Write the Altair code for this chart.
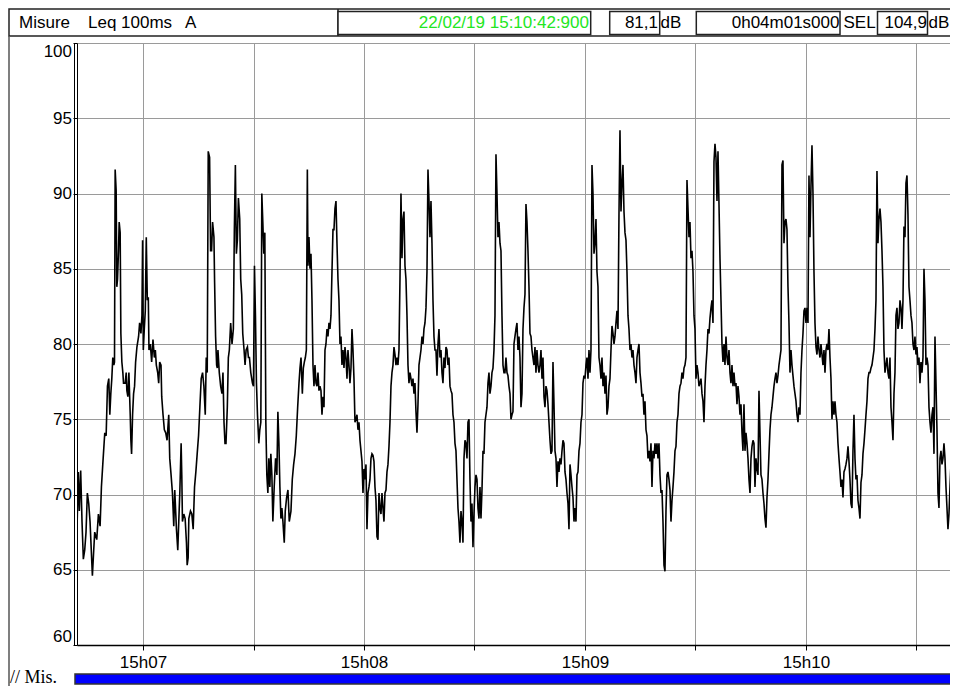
import altair as alt
import pandas as pd

# ---------------- data (time in seconds since 15:00:00, Leq in dB(A)) ----------------
# first part of the trace, read point by point
seg1_sec = [
    402.10, 402.44, 402.71, 403.08, 403.44, 403.80, 404.17, 404.53, 404.89, 405.26,
    405.62, 406.26, 406.62, 406.89, 407.44, 407.89, 408.35, 408.71, 409.08, 409.62,
    409.99, 410.35, 410.71, 410.99, 411.26, 411.53, 411.80, 412.08, 412.26, 412.44,
    412.71, 412.89, 413.08, 413.35, 413.53, 413.80, 413.99, 414.26, 414.53, 414.71,
    415.17, 415.44, 415.62, 415.89, 416.17, 416.53, 416.71, 416.90, 417.17, 417.44,
    417.71, 417.99, 418.35, 418.80, 419.08, 419.44, 419.71, 419.89, 420.08, 420.35,
    420.62, 420.89, 421.17, 421.44, 421.62, 421.99, 422.35, 422.71, 423.08, 423.35,
    423.62, 423.99, 424.26, 424.53, 424.89, 425.08, 425.44, 425.80, 426.17, 426.53,
    426.99, 427.26, 427.62, 427.99, 428.35, 428.62, 429.08, 429.44, 429.71, 429.99,
    430.35, 430.53, 430.71, 431.08, 431.44, 431.80, 431.99, 432.26, 432.44, 432.89,
    433.26, 433.62, 433.99, 434.35, 434.71, 435.08, 435.44, 435.80, 436.17, 436.53,
    436.90, 437.17, 437.44, 437.71, 438.08, 438.35, 438.62, 438.89, 439.26, 439.44,
    439.71, 439.99, 440.17, 440.35, 440.71, 441.08, 441.44, 441.71, 441.99, 442.26,
    442.53, 442.89, 443.17, 443.44, 443.80, 444.17, 444.53, 444.80, 445.08, 445.35,
    445.62, 445.90, 446.26, 446.53, 446.80, 447.08, 447.44, 447.71, 447.99, 448.35,
    448.62, 448.90, 449.26, 449.71, 449.99, 450.26, 450.53, 450.80, 451.08, 451.44,
    451.71, 451.99, 452.26, 452.53, 452.80, 453.08, 453.35, 453.62, 453.90, 454.17,
    454.44, 454.71, 454.99, 455.26, 455.62, 455.99, 456.35, 456.62, 456.90, 457.17,
    457.44, 457.71, 457.99, 458.35, 458.62, 458.99, 459.35, 459.71, 460.17, 460.53,
    460.90, 461.26, 461.62, 461.99, 462.35, 462.62, 462.90, 463.26, 463.53, 463.80,
    464.08, 464.35, 464.62,
]
seg1_db = [
    67.9, 71.5, 68.9, 71.6, 68.2, 65.7, 66.3, 67.5, 70.1, 69.4,
    68.2, 64.6, 66.3, 67.5, 67.0, 68.7, 67.9, 70.5, 72.0, 74.1,
    73.9, 77.2, 77.7, 75.3, 76.7, 77.7, 79.1, 78.6, 78.8, 91.6,
    90.2, 83.8, 84.3, 86.2, 88.1, 87.4, 80.7, 78.8, 78.1, 77.4,
    77.4, 78.1, 76.9, 76.5, 78.1, 75.3, 73.6, 72.7, 75.3, 76.7,
    77.2, 78.8, 79.8, 80.5, 81.4, 80.7, 81.9, 86.9, 79.6, 81.0,
    82.2, 87.1, 82.9, 83.1, 79.6, 80.0, 78.8, 80.3, 79.1, 79.6,
    78.6, 78.1, 77.4, 78.8, 78.6, 76.5, 75.3, 74.3, 74.1, 73.6,
    75.3, 72.4, 71.3, 70.1, 67.9, 70.3, 67.7, 66.3, 68.2, 70.1,
    73.4, 71.3, 68.2, 68.7, 68.4, 66.8, 65.3, 65.8, 68.4, 68.9,
    68.7, 67.7, 70.5, 71.5, 72.7, 73.9, 75.8, 77.7, 78.1, 77.2,
    75.3, 79.1, 78.1, 92.8, 92.4, 86.2, 86.2, 88.1, 87.1, 84.1,
    80.5, 78.6, 78.4, 79.6, 78.1, 77.2, 76.7, 78.1, 74.8, 73.4,
    73.4, 75.8, 79.1, 79.6, 81.4, 80.0, 81.0, 87.6, 91.9, 86.0,
    86.9, 89.7, 88.3, 84.3, 83.3, 80.7, 79.6, 78.6, 79.6, 79.8,
    79.1, 79.1, 78.1, 77.4, 77.2, 85.2, 81.9, 77.4, 75.3, 73.4,
    74.3, 74.8, 90.0, 88.1, 86.0, 87.4, 74.8, 71.3, 70.1, 72.4,
    70.5, 72.7, 71.3, 68.2, 70.5, 72.4, 71.3, 75.5, 73.4, 70.5,
    68.4, 69.1, 68.2, 66.8, 68.9, 69.8, 70.3, 68.2, 68.9, 71.0,
    72.0, 72.7, 73.9, 75.8, 77.4, 78.4, 79.1, 76.7, 78.4, 78.8,
    79.1, 79.6, 91.6,
]

# remaining parts: samples read at a regular spacing (start second, spacing in seconds)
sample_step = 0.2715
seg2_start = 464.79
seg2_db = [
    85.2, 87.1, 85.0, 86.0, 82.9, 78.6, 77.2, 78.6, 77.4, 77.2,
    78.1, 76.9, 77.2, 76.9, 75.3, 76.5, 75.8, 79.6, 80.0, 81.0,
    80.5, 81.4, 81.0, 81.9, 84.8, 87.6, 87.6, 89.0, 89.5, 86.7,
    84.3, 82.9, 80.0, 80.5, 78.6, 79.6, 78.4, 79.8, 79.1, 77.7,
    79.6, 78.6, 77.4, 78.4, 81.0, 79.6, 77.7, 74.8, 75.0, 75.3,
    74.3, 74.8, 73.6, 72.9, 72.2, 70.1, 71.7, 71.0, 72.0, 67.7,
    70.1, 70.5, 71.0, 72.4, 72.7, 72.6, 72.2, 70.5, 69.6, 67.2,
    67.0, 70.1, 69.1, 68.7, 70.1, 69.1, 68.2, 70.1, 70.3, 71.5,
    72.0, 73.2, 74.8, 77.2, 78.1, 78.6, 79.8, 79.3, 78.6, 79.1,
    78.6, 79.6, 84.3, 90.0, 85.7, 88.3, 88.8, 85.2, 84.3, 81.9,
    78.6, 77.4, 78.1, 77.7, 77.2, 77.7, 76.7, 77.4, 75.5, 74.1,
    76.0, 78.6, 79.1, 79.6, 80.5, 80.0, 81.0, 81.4, 82.4, 84.8,
    91.6, 89.5, 87.1, 89.5, 86.7, 82.9, 80.5, 79.6, 79.6, 77.9,
    80.0, 81.0, 79.1, 79.6, 78.1, 77.4, 79.1, 78.4, 79.8, 79.6,
    78.6, 79.1, 77.2, 76.9, 76.7, 75.3, 74.8, 73.4, 72.9, 71.0,
    69.1, 68.2, 66.8, 68.9, 68.2, 66.8, 72.4, 73.6, 73.4, 72.4,
    74.8, 75.0, 71.0, 68.2, 69.4, 66.5, 68.7, 70.5, 71.3, 71.0,
    69.1, 68.4, 70.5, 68.4, 70.3, 72.9, 72.7, 74.8, 75.3, 75.8,
    77.4, 78.1, 76.7, 77.2, 78.1, 78.4, 79.6, 81.9, 92.6, 90.0,
    87.1, 88.1, 86.7, 86.2, 81.9, 78.6, 78.1, 78.1, 79.1, 78.1,
    77.9, 77.2, 76.7, 75.0, 75.3, 75.5, 80.0, 80.5, 81.0, 81.4,
    79.6, 80.5, 79.1, 75.8, 76.7, 81.0, 82.4, 83.3, 89.3, 88.1,
    86.2, 83.8, 80.7, 80.5, 79.6, 79.1, 78.6, 79.8, 78.1, 79.6,
    78.6, 78.1,
]
seg3_start = 527.78
seg3_db = [
    78.6, 79.6, 77.7, 79.1, 76.5, 75.8, 77.2, 76.9, 76.0, 74.8,
    73.6, 72.7, 72.9, 78.8, 76.0, 72.9, 72.4, 70.5, 72.2, 71.5,
    72.4, 72.0, 72.9, 73.6, 73.4, 71.5, 71.0, 70.1, 69.4, 67.7,
    72.0, 71.3, 70.5, 69.8, 68.2, 69.1, 68.2, 71.3, 71.5, 72.9,
    73.4, 74.8, 75.3, 77.4, 77.9, 77.7, 78.6, 79.1, 77.7, 79.6,
    78.1, 79.6, 91.9, 90.0, 86.0, 86.7, 88.3, 84.8, 83.8, 79.1,
    78.6, 77.7, 79.1, 77.2, 78.1, 76.7, 77.9, 75.3, 75.8, 77.2,
    77.7, 79.6, 81.2, 80.7, 80.0, 80.5, 81.4, 82.2, 81.0, 88.6,
    94.2, 88.8, 90.7, 91.9, 88.8, 87.4, 86.9, 84.8, 81.9, 81.0,
    79.6, 80.0, 79.1, 79.6, 78.6, 78.1, 77.4, 79.1, 79.6, 80.0,
    78.1, 77.4, 76.5, 76.7, 75.3, 76.2, 74.3, 73.9, 72.4, 72.9,
    72.2, 73.4, 70.5, 72.9, 72.4, 73.4, 72.7, 73.4, 72.4, 73.4,
    71.3, 70.1, 70.3, 68.2, 65.3, 64.9, 68.9, 71.3, 71.5, 71.0,
    70.3, 68.2, 69.6, 70.5, 71.5, 72.9, 73.2, 74.8, 75.3, 76.7,
    77.2, 77.4, 78.1, 77.7, 78.4, 78.6, 79.1, 90.9, 89.0, 87.1,
    88.1, 85.7, 86.2, 84.8, 81.9, 81.0, 77.7, 78.6, 78.1, 77.2,
    77.4, 77.7, 76.7, 76.2, 74.8, 77.2, 78.6, 79.6, 81.0, 80.7,
    81.7, 82.4, 82.9, 81.4, 92.1, 93.3, 92.4, 89.5, 92.8, 89.3,
    85.7, 82.9, 80.0, 78.8, 80.0, 78.6, 80.5, 79.1, 78.6, 79.6,
    78.1, 77.4, 78.6, 77.2, 78.1, 77.2, 77.4, 76.0, 77.2, 76.5,
    75.3, 76.0, 74.1, 72.9, 76.0, 72.9, 74.1, 73.4, 72.4, 71.0,
    70.1, 72.4, 73.2, 73.6, 73.4, 70.5, 72.4, 71.7, 71.3, 76.9,
]
seg4_start = 587.78
seg4_db = [
    71.3, 71.0, 70.1, 69.4, 68.4, 67.8, 69.8, 71.0, 72.7, 74.3,
    75.3, 75.8, 76.5, 77.2, 77.7, 78.1, 77.4, 77.9, 78.6, 79.1,
    79.6, 91.9, 92.2, 86.7, 88.1, 88.3, 87.6, 83.8, 81.4, 78.1,
    79.6, 78.6, 77.9, 77.2, 76.7, 76.2, 75.3, 74.8, 75.8, 75.3,
    78.1, 79.6, 80.7, 82.2, 82.4, 81.4, 82.4, 81.4, 91.2, 87.1,
    90.5, 93.2, 90.0, 84.8, 81.4, 79.8, 79.3, 80.5, 79.6, 79.1,
    80.0, 79.3, 78.6, 79.6, 78.1, 79.6, 80.0, 79.6, 81.0, 79.1,
    77.7, 75.0, 76.2, 75.3, 76.2, 75.3, 74.8, 73.4, 72.4, 71.5,
    70.5, 71.0, 69.8, 71.5, 71.7, 72.0, 72.4, 73.2, 72.2, 71.0,
    69.4, 69.1, 72.9, 75.3, 72.4, 71.0, 71.3, 69.6, 69.1, 68.4,
    70.8, 71.3, 72.7, 73.4, 74.3, 75.3, 76.2, 77.7, 78.1, 78.1,
    78.4, 78.6, 79.1, 79.6, 81.0, 82.9, 91.5, 86.7, 88.3, 89.0,
    88.1, 86.2, 83.8, 79.6, 78.1, 78.6, 79.1, 78.1, 77.7, 79.1,
    75.8, 74.8, 73.6, 76.7, 78.1, 81.9, 82.4, 81.0, 81.4, 82.9,
    82.4, 81.0, 82.9, 87.8, 87.1, 90.7, 91.2, 88.6, 83.8, 82.9,
    81.9, 81.4, 80.0, 79.6, 80.5, 79.3, 79.8, 78.6, 79.1, 77.4,
    78.8, 78.1, 79.1, 85.0, 82.9, 78.6, 79.1, 78.6, 75.8, 74.8,
    74.1, 75.3, 75.8, 72.7, 80.5, 77.4, 74.3, 70.1, 69.1, 72.4,
    72.9, 72.0, 72.4, 73.4, 72.4, 70.5, 69.1, 67.7, 68.7, 70.5,
    72.0, 73.4, 73.2, 72.0, 71.5, 70.1, 69.1, 68.9,
]

# axes
x_domain = [402.08, 639.10]          # visible window, seconds since 15:00:00
x_tick_sec = [420, 450, 480, 510, 540, 570, 600, 630]
x_tick_text = ["15h07", "", "15h08", "", "15h09", "", "15h10", ""]
y_ticks = [60, 65, 70, 75, 80, 85, 90, 95, 100]

# header / footer texts
hdr_mode = ["Misure", "Leq 100ms", "A"]
hdr_time = "22/02/19 15:10:42:900"
hdr_level = "81,1"
hdr_duration = "0h04m01s000"
hdr_sel = "104,9"
unit = "dB"
footer_text = "// Mis."

# ---------------- build table ----------------
times, vals = list(seg1_sec), list(seg1_db)
for start, arr in [(seg2_start, seg2_db), (seg3_start, seg3_db), (seg4_start, seg4_db)]:
    times += [round(start + i * sample_step, 3) for i in range(len(arr))]
    vals += arr
df = pd.DataFrame({"t": times, "db": vals})

label_expr = "''"
for v, s in reversed(list(zip(x_tick_sec, x_tick_text))):
    label_expr = f"datum.value == {v} ? '{s}' : ({label_expr})"

W, H = 873, 602
SANS = "Liberation Sans"
SERIF = "Liberation Serif"
dummy = pd.DataFrame({"k": [0]})


def rect(x1, x2, y1, y2, fill="white", stroke="#222222", sw=1.5):
    return alt.Chart(dummy).mark_rect(fill=fill, stroke=stroke, strokeWidth=sw, clip=False).encode(
        x=alt.value(x1), x2=alt.value(x2), y=alt.value(y1), y2=alt.value(y2))


def vrule(x, y1, y2, color="#222222", sw=1.5):
    return alt.Chart(dummy).mark_rule(color=color, strokeWidth=sw, clip=False).encode(
        x=alt.value(x), y=alt.value(y1), y2=alt.value(y2))


def txt(s, x, y, align="left", font=SANS, size=17, color="#000000", baseline="middle"):
    return alt.Chart(dummy).mark_text(text=s, align=align, baseline=baseline, font=font,
                                      fontSize=size, color=color, clip=False).encode(
        x=alt.value(x), y=alt.value(y))


line = alt.Chart(df).mark_line(color="#000000", strokeWidth=1.6, clip=True).encode(
    x=alt.X("t:Q", scale=alt.Scale(domain=x_domain, nice=False, zero=False),
            axis=alt.Axis(values=x_tick_sec, labelExpr=label_expr, title=None, grid=True,
                          gridColor="#9a9a9a", gridWidth=1, domainColor="#000000", domainWidth=1.5,
                          tickColor="#000000", tickSize=5, labelFont=SANS, labelFontSize=17,
                          labelColor="#000000", labelPadding=4, labelAngle=0, labelOverlap=False)),
    y=alt.Y("db:Q", scale=alt.Scale(domain=[60, 100], nice=False, zero=False),
            axis=alt.Axis(values=y_ticks, title=None, grid=True, gridColor="#9a9a9a", gridWidth=1,
                          domainColor="#000000", domainWidth=1, tickColor="#000000", tickSize=4,
                          labelFont=SANS, labelFontSize=17, labelColor="#000000", labelPadding=1.5,
                          labelFlush=True, labelOverlap=False)),
)

hy = -20.5  # header text line
decor = [
    # header band
    rect(-68, 900, -34, -7),
    vrule(261, -34, -7),
    rect(261, 513.7, -31.5, -8.5),
    rect(532.7, 582.7, -31.5, -8.5),
    rect(619.3, 763.0, -31.5, -8.5),
    rect(800.5, 850.5, -31.5, -8.5),
    txt(hdr_mode[0], -58, hy),
    txt(hdr_mode[1], 11, hy),
    txt(hdr_mode[2], 108, hy),
    txt(hdr_time, 512, hy, align="right", color="#22e622"),
    txt(hdr_level, 581, hy, align="right"),
    txt(unit, 583.5, hy),
    txt(hdr_duration, 762.5, hy, align="right"),
    txt("SEL", 766.5, hy),
    txt(hdr_sel, 850, hy, align="right"),
    txt(unit, 851.5, hy),
    # frame
    vrule(-68, -7, 660, color="#555555"),
    vrule(-2.5, 0, H, color="#000000", sw=1),
    # footer
    txt(footer_text, -67, 640, font=SERIF, size=18, baseline="alphabetic"),
    rect(-2, 900, 631, 641, fill="#0000ff", stroke="#333333", sw=1.5),
]

chart = alt.layer(line, *decor).properties(
    width=W, height=H,
    padding={"left": 69, "top": 35, "right": 0, "bottom": 41},
    autosize=alt.AutoSizeParams(type="none"),
    background="white",
).configure_view(stroke=None)

chart.save("out.html", embed_options={"renderer": "svg", "actions": False})
